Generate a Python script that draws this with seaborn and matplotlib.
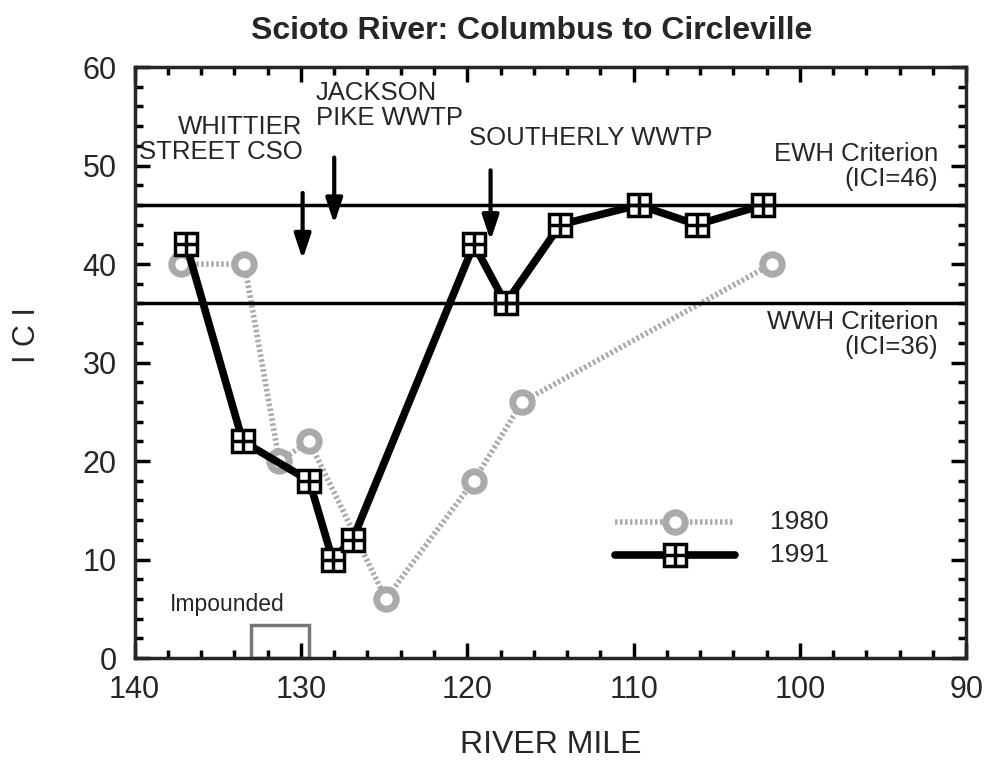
import pandas as pd
import numpy as np
import matplotlib
matplotlib.use("Agg")
import matplotlib.pyplot as plt
import seaborn as sns
from matplotlib.ticker import MultipleLocator
from matplotlib.patches import Rectangle

# river mile / ICI readings
miles_1980 = [137.2, 133.4, 131.3, 129.5, 124.9, 119.6, 116.7, 101.7]
ici_1980 = [40, 40, 20, 22, 6, 18, 26, 40]
miles_1991 = [136.9, 133.5, 129.5, 128.1, 126.9, 119.6, 117.7, 114.4, 109.7, 106.2, 102.2]
ici_1991 = [42, 22, 18, 10, 12, 42, 36, 44, 46, 44, 46]

ewh_ici = 46
wwh_ici = 36
impounded = (133.0, 129.5)

df80 = pd.DataFrame({"mile": miles_1980, "ici": ici_1980})
df91 = pd.DataFrame({"mile": miles_1991, "ici": ici_1991})

sns.set_style("ticks")
plt.rcParams["font.family"] = ["Liberation Sans", "DejaVu Sans"]

fig = plt.figure(figsize=(9.9, 7.63), dpi=100)
ax = fig.add_axes([0.136, 0.1376, 0.840, 0.7745])

gray = "#aaaaaa"
dots = (0, (0.45, 0.45))
sns.lineplot(data=df80, x="mile", y="ici", ax=ax, sort=False, color=gray,
             lw=4, linestyle=dots, marker="o", ms=14, mfc="white",
             mec=gray, mew=5)
sns.lineplot(data=df91, x="mile", y="ici", ax=ax, sort=False, color="black",
             lw=5.5, marker="s", ms=16.5, mfc="white", mec="black", mew=2.5)
ax.plot(df91["mile"], df91["ici"], ls="none", marker="+", ms=14.5, mew=2.5, color="black")

ax.axhline(ewh_ici, color="black", lw=2.5)
ax.axhline(wwh_ici, color="black", lw=2.5)

ax.add_patch(Rectangle((impounded[0], 0), impounded[1] - impounded[0], 3.4,
                       fill=False, ec="#777777", lw=2.5, clip_on=False))
ax.text(137.9, 5.4, "Impounded", fontsize=16.5, ha="left", va="center")

arrow = dict(arrowstyle="-|>,head_length=1.5,head_width=0.5", color="black", lw=3)
ax.annotate("", xy=(129.9, 40.2), xytext=(129.9, 47.5), arrowprops=arrow)
ax.annotate("", xy=(128.0, 43.8), xytext=(128.0, 51.1), arrowprops=arrow)
ax.annotate("", xy=(118.6, 42.1), xytext=(118.6, 49.8), arrowprops=arrow)

tfont = dict(fontsize=18.5, va="center", linespacing=1.05)
ax.text(129.9, 52.6, "WHITTIER\nSTREET CSO", ha="right", multialignment="right", **tfont)
ax.text(129.1, 56.1, "JACKSON\nPIKE WWTP", ha="left", multialignment="left", **tfont)
ax.text(112.6, 52.8, "SOUTHERLY WWTP", ha="center", **tfont)
ax.text(91.7, 49.9, "EWH Criterion\n(ICI=46)", ha="right", multialignment="right", **tfont)
ax.text(91.7, 32.8, "WWH Criterion\n(ICI=36)", ha="right", multialignment="right", **tfont)

# legend drawn as a small key inside the axes
ax.plot([111.1, 103.9], [13.8, 13.8], color=gray, lw=4, linestyle=dots)
ax.plot([107.5], [13.8], marker="o", ms=14, mfc="white", mec=gray, mew=5)
ax.plot([111.1, 103.9], [10.5, 10.5], color="black", lw=5.5)
ax.plot([107.5], [10.5], marker="s", ms=16.5, mfc="white", mec="black", mew=2.5)
ax.plot([107.5], [10.5], marker="+", ms=14.5, mew=2.5, color="black")
ax.text(101.8, 13.8, "1980", fontsize=19, va="center")
ax.text(101.8, 10.5, "1991", fontsize=19, va="center")

ax.set_xlim(140, 90)
ax.set_ylim(0, 60)
ax.xaxis.set_major_locator(MultipleLocator(10))
ax.xaxis.set_minor_locator(MultipleLocator(2))
ax.yaxis.set_major_locator(MultipleLocator(10))
ax.yaxis.set_minor_locator(MultipleLocator(2))
ax.tick_params(which="both", direction="in", top=True, right=True, width=2.5,
               labelsize=22, color="black")
ax.tick_params(axis="x", pad=12)
ax.tick_params(axis="y", pad=13)
ax.tick_params(which="major", length=11)
ax.tick_params(which="minor", length=6)
for spine in ax.spines.values():
    spine.set_linewidth(2.5)
    spine.set_visible(True)

ax.set_xlabel("RIVER MILE", fontsize=23, labelpad=18)
ax.set_ylabel("I C I", fontsize=22)
ax.yaxis.set_label_coords(-0.111, 0.547)
ax.set_title("Scioto River: Columbus to Circleville", fontsize=23,
             fontweight="bold", pad=20, x=0.478)

fig.savefig("out.png", dpi=100)
